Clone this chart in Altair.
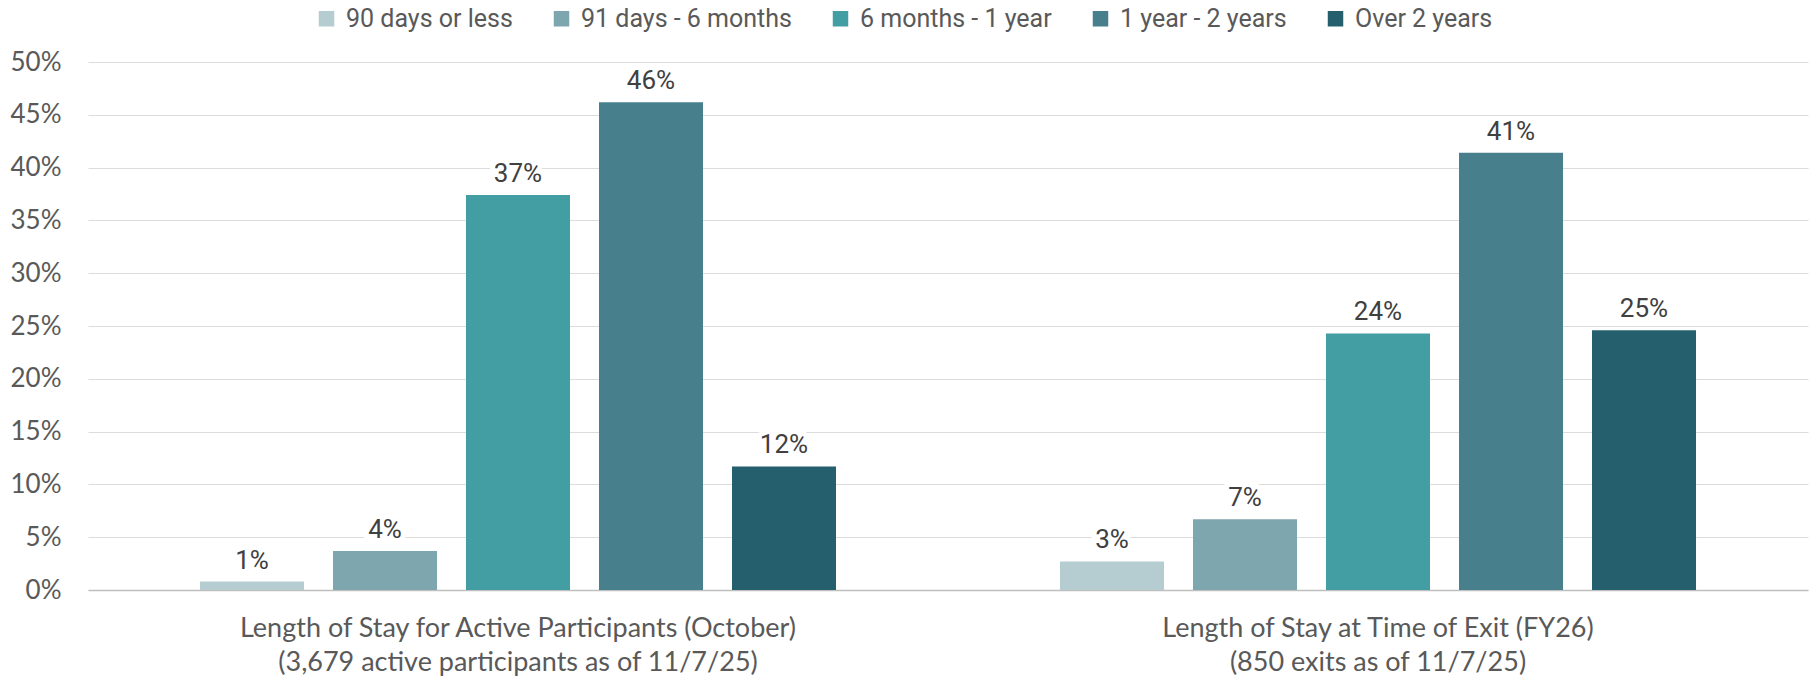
import altair as alt
import pandas as pd

# Two cohorts shown side by side; "|" splits each axis label into two lines
groups = [
    "Length of Stay for Active Participants (October)|(3,679 active participants as of 11/7/25)",
    "Length of Stay at Time of Exit (FY26)|(850 exits as of 11/7/25)",
]
categories = [
    "90 days or less",
    "91 days - 6 months",
    "6 months - 1 year",
    "1 year - 2 years",
    "Over 2 years",
]
active_pct = [0.8, 3.7, 37.4, 46.2, 11.7]
exit_pct = [2.7, 6.7, 24.3, 41.4, 24.6]
colors = ["#b5cdd1", "#7ea6ae", "#429ea2", "#47808c", "#255f6d"]
y_ticks = [0, 5, 10, 15, 20, 25, 30, 35, 40, 45, 50]

rows = []
for grp, vals in zip(groups, [active_pct, exit_pct]):
    for cat, v in zip(categories, vals):
        rows.append({"group": grp, "cat": cat, "value": v})
df = pd.DataFrame(rows)

AXIS_FONT = "Lato"
LABEL_FONT = "Roboto"

base = alt.Chart(df).encode(
    x=alt.X(
        "group:N",
        sort=groups,
        scale=alt.Scale(paddingInner=0, paddingOuter=0),
        axis=alt.Axis(
            title=None,
            labelExpr="split(datum.label, '|')",
            labelAngle=0,
            labelFont=AXIS_FONT,
            labelFontSize=27,
            labelColor="#595959",
            labelLineHeight=34,
            labelPadding=25,
            labelLimit=900,
            ticks=False,
            domainColor="#bfbfbf",
            domainWidth=1.5,
            grid=False,
        ),
    ),
    xOffset=alt.XOffset(
        "cat:N",
        sort=categories,
        scale=alt.Scale(paddingInner=0.218, paddingOuter=0.842),
    ),
    y=alt.Y(
        "value:Q",
        scale=alt.Scale(domain=[0, 50], nice=False),
        axis=alt.Axis(
            title=None,
            values=y_ticks,
            labelExpr="datum.value + '%'",
            labelFont=AXIS_FONT,
            labelFontSize=26,
            labelColor="#595959",
            labelPadding=27,
            ticks=False,
            domain=False,
            grid=True,
            gridColor="#dcdcdc",
            gridWidth=1.2,
        ),
    ),
)

bars = base.mark_bar().encode(
    color=alt.Color(
        "cat:N",
        sort=categories,
        scale=alt.Scale(domain=categories, range=colors),
        legend=alt.Legend(
            title=None,
            orient="none",
            direction="horizontal",
            columns=5,
            legendX=226,
            legendY=-56,
            symbolType="square",
            symbolSize=240,
            symbolStrokeWidth=0,
            labelFont=LABEL_FONT,
            labelFontSize=25,
            labelColor="#595959",
            labelOffset=7,
            labelLimit=400,
            columnPadding=36,
        ),
    )
)

labelled = base.transform_calculate(label="format(datum.value, '.0f') + '%'")

halo = labelled.mark_text(
    baseline="middle",
    dy=-21,
    font=LABEL_FONT,
    fontSize=26,
    stroke="white",
    strokeWidth=10,
    fill="white",
).encode(text="label:N")

labels = labelled.mark_text(
    baseline="middle",
    dy=-21,
    font=LABEL_FONT,
    fontSize=26,
    color="#404040",
).encode(text="label:N")

chart = (
    alt.layer(bars, halo, labels)
    .properties(
        width=1720,
        height=528,
        autosize=alt.AutoSizeParams(type="none"),
        padding={"left": 88, "top": 62, "right": 5, "bottom": 89},
        background="white",
    )
    .configure_view(stroke=None)
)

chart.save("out.html", embed_options={"renderer": "svg", "actions": False})
